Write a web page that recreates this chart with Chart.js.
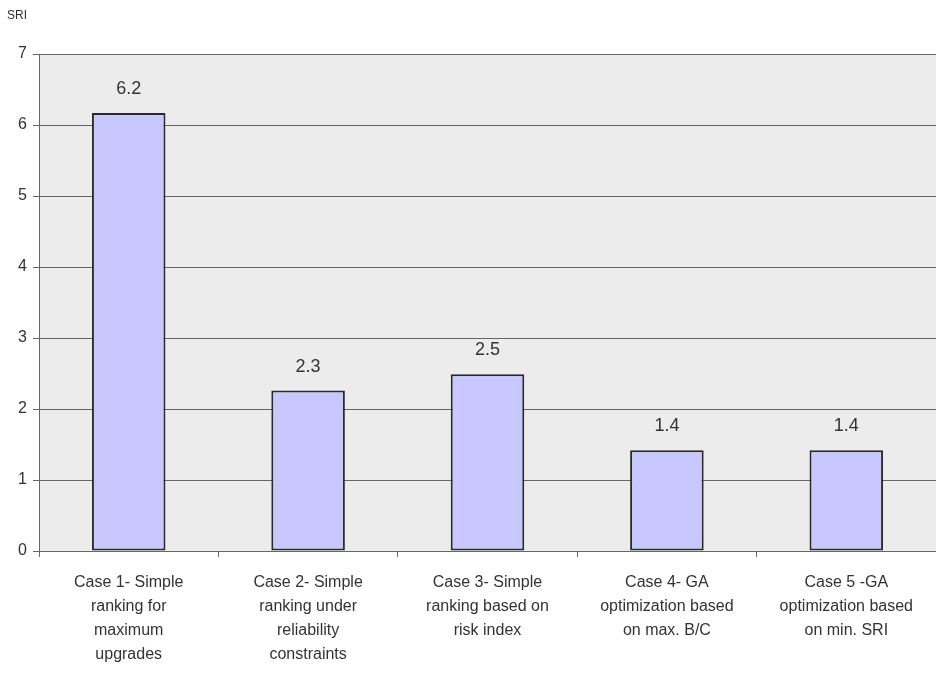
<!DOCTYPE html>
<html>
<head>
<meta charset="utf-8">
<script src="https://cdn.jsdelivr.net/npm/chart.js@4.4.0/dist/chart.umd.min.js"></script>
<style>
  html, body { margin: 0; padding: 0; background: #fff; }
  #wrap { width: 936px; height: 673px; }
</style>
</head>
<body>
<div id="wrap"><canvas id="sri"></canvas></div>
<script>
const categories = [
    ['Case 1- Simple', 'ranking for', 'maximum', 'upgrades'],
    ['Case 2- Simple', 'ranking under', 'reliability', 'constraints'],
    ['Case 3- Simple', 'ranking based on', 'risk index'],
    ['Case 4- GA', 'optimization based', 'on max. B/C'],
    ['Case 5 -GA', 'optimization based', 'on min. SRI']
];
const sriValues = [6.17, 2.26, 2.49, 1.42, 1.42];
const valueLabels = ['6.2', '2.3', '2.5', '1.4', '1.4'];
const yTicks = [0, 1, 2, 3, 4, 5, 6, 7];

// grey plot background + "SRI" axis caption + value labels
const decor = {
    id: 'decor',
    beforeDraw(chart) {
        const { ctx, chartArea: a } = chart;
        ctx.save();
        ctx.fillStyle = '#ececec';
        ctx.fillRect(a.left, a.top, a.right - a.left, a.bottom - a.top);
        ctx.restore();
    },
    afterDatasetsDraw(chart) {
        const ctx = chart.ctx;
        const meta = chart.getDatasetMeta(0);
        ctx.save();
        ctx.font = '18px "Liberation Sans", Arial, sans-serif';
        ctx.fillStyle = '#333';
        ctx.textAlign = 'center';
        ctx.textBaseline = 'middle';
        meta.data.forEach((bar, i) => {
            ctx.fillText(valueLabels[i], bar.x, bar.y - 24);
        });
        ctx.font = '12px "Liberation Sans", Arial, sans-serif';
        ctx.textAlign = 'left';
        ctx.fillText('SRI', 7, 16);
        ctx.restore();
    }
};

new Chart(document.getElementById('sri'), {
    type: 'bar',
    data: {
        labels: categories,
        datasets: [{
            data: sriValues,
            backgroundColor: '#c8c8ff',
            borderColor: '#2a2a2a',
            borderWidth: 2,
            borderSkipped: false,
            categoryPercentage: 1,
            barPercentage: 0.41
        }]
    },
    options: {
        responsive: true,
        maintainAspectRatio: false,
        animation: false,
        layout: { padding: { top: 54, right: 0, left: 0, bottom: 0 } },
        plugins: {
            legend: { display: false },
            tooltip: { enabled: false }
        },
        scales: {
            x: {
                offset: true,
                grid: {
                    offset: true,
                    drawOnChartArea: false,
                    color: '#666',
                    tickLength: 6
                },
                border: { color: '#666', width: 1 },
                ticks: {
                    color: '#333',
                    font: { family: '"Liberation Sans", Arial, sans-serif', size: 16, lineHeight: 1.5 },
                    padding: 14,
                    maxRotation: 0,
                    autoSkip: false
                },
                afterFit(scale) { scale.height = 122; }
            },
            y: {
                min: 0,
                max: 7,
                afterBuildTicks(scale) { scale.ticks = yTicks.map(v => ({ value: v })); },
                grid: { color: '#666', tickLength: 6 },
                border: { color: '#666', width: 1 },
                ticks: {
                    color: '#333',
                    font: { family: '"Liberation Sans", Arial, sans-serif', size: 16 },
                    padding: 6
                },
                afterFit(scale) { scale.width = 39; }
            }
        }
    },
    plugins: [decor]
});
</script>
</body>
</html>
